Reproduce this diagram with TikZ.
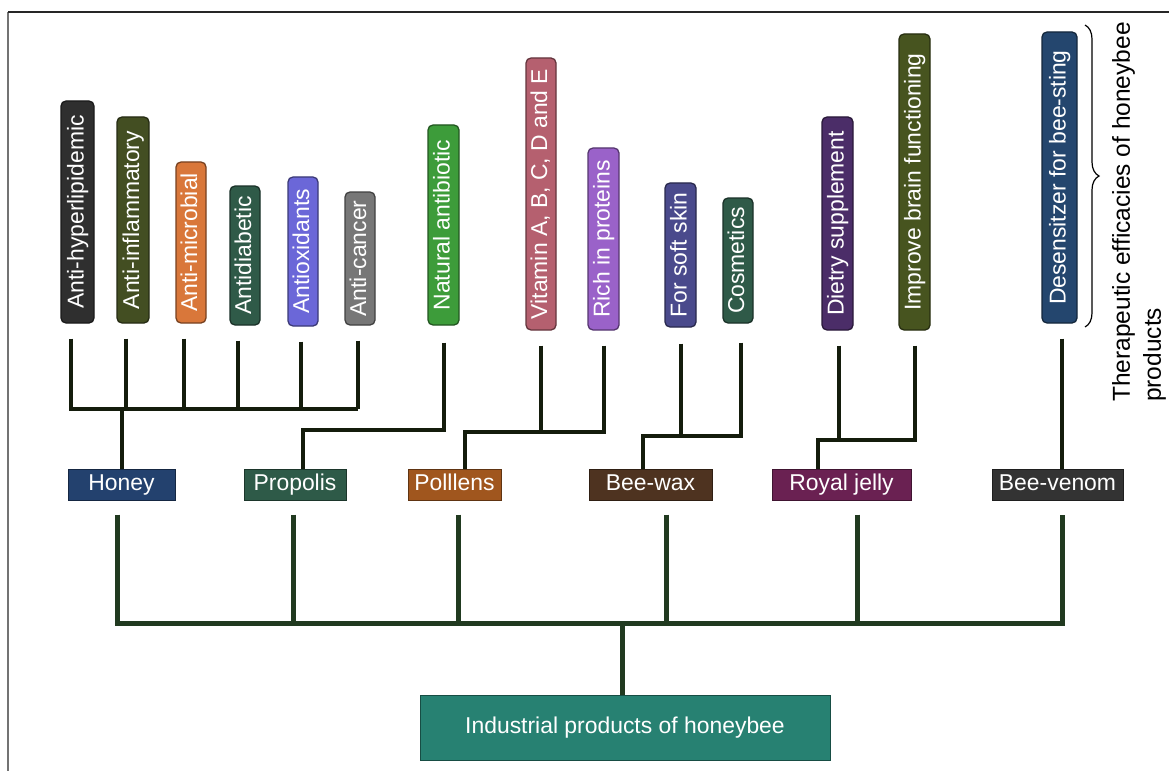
\documentclass[tikz,border=0pt]{standalone}
\usepackage{fontspec}
\setmainfont{Liberation Sans}
\usetikzlibrary{decorations.pathreplacing}
\definecolor{cHyper}{HTML}{2F2F2F}
\definecolor{cInfl}{HTML}{434E22}
\definecolor{cMicro}{HTML}{D9773A}
\definecolor{cDiab}{HTML}{2F5A48}
\definecolor{cOxi}{HTML}{6B67D8}
\definecolor{cCanc}{HTML}{777777}
\definecolor{cNat}{HTML}{3D9C3A}
\definecolor{cVit}{HTML}{B5606F}
\definecolor{cRich}{HTML}{9A62C9}
\definecolor{cSoft}{HTML}{4A4A8C}
\definecolor{cCosm}{HTML}{2F5A48}
\definecolor{cDiet}{HTML}{4B2D68}
\definecolor{cBrain}{HTML}{47541F}
\definecolor{cDes}{HTML}{24466E}
\definecolor{pHoney}{HTML}{23416E}
\definecolor{pProp}{HTML}{2E5A48}
\definecolor{pPoll}{HTML}{A0561E}
\definecolor{pWax}{HTML}{4E3320}
\definecolor{pRoyal}{HTML}{6A2152}
\definecolor{pVenom}{HTML}{333333}
\definecolor{pInd}{HTML}{278172}
\definecolor{topc}{HTML}{141C0C}
\definecolor{botc}{HTML}{213A20}
\begin{document}
\begin{tikzpicture}[x=1bp,y=-1bp,
  lblfont/.style={font=\fontsize{22.9bp}{27bp}\selectfont},
  vlabel/.style={rotate=90, rounded corners=5bp, fill=#1, draw=#1!55!black,
    line width=1.3bp, text=white, lblfont, inner sep=0pt,
    text height=16.5bp, text depth=4.5bp},
  prod/.style={fill=#1, draw=#1!60!black, line width=1bp, text=white,
    lblfont, inner sep=0pt, minimum height=31bp,
    text height=16.5bp, text depth=4.5bp},
  topline/.style={line width=4bp, draw=topc, line join=miter},
  botline/.style={line width=5bp, draw=botc, line join=miter},
  bracestyle/.style={decorate, decoration={brace, amplitude=14bp}, line width=1.2bp, draw=black},
]
\useasboundingbox (0,0) rectangle (1169,771);
\fill[white] (0,0) rectangle (1169,771);
% frame
\draw[black!55, line width=1.3bp] (8,771) -- (8,12);
\draw[black!85, line width=1.3bp] (8,12) -- (1169,12);

% vertical labels
\node[vlabel=cHyper, minimum width=222bp, minimum height=33bp] (a1) at (77.5,212) {Anti-hyperlipidemic};
\node[vlabel=cInfl, minimum width=206bp, minimum height=32bp] (a2) at (133,220) {Anti-inflammatory};
\node[vlabel=cMicro, minimum width=161bp, minimum height=30bp] (a3) at (191,242.5) {Anti-microbial};
\node[vlabel=cDiab, minimum width=139bp, minimum height=30bp] (a4) at (245,255.5) {Antidiabetic};
\node[vlabel=cOxi, minimum width=149bp, minimum height=30bp] (a5) at (303,251.5) {Antioxidants};
\node[vlabel=cCanc, minimum width=133bp, minimum height=30bp] (a6) at (360,258.5) {Anti-cancer};
\node[vlabel=cNat, minimum width=200bp, minimum height=31bp] (nat) at (443.5,225) {Natural antibiotic};
\node[vlabel=cVit, minimum width=272bp, minimum height=30bp] (vit) at (541,194) {Vitamin A, B, C, D and E};
\node[vlabel=cRich, minimum width=182bp, minimum height=31bp] (rich) at (603.5,239) {Rich in proteins};
\node[vlabel=cSoft, minimum width=144bp, minimum height=31bp] (soft) at (680.5,255) {For soft skin};
\node[vlabel=cCosm, minimum width=125bp, minimum height=30bp] (cosm) at (738,260.5) {Cosmetics};
\node[vlabel=cDiet, minimum width=213bp, minimum height=31bp] (diet) at (837.5,223.5) {Dietry supplement};
\node[vlabel=cBrain, minimum width=296bp, minimum height=31bp] (brain) at (914.5,182) {Improve brain functioning};
\node[vlabel=cDes, minimum width=291bp, minimum height=35bp] (des) at (1059.5,177.5) {Desensitzer for bee-sting};

% brace and its text
\coordinate (bt) at (1085,25);
\coordinate (bb) at (1085,327);
\draw[bracestyle] (bt) -- (bb);
\node[rotate=90, anchor=north west, align=left, inner sep=0pt,
  font=\fontsize{24.5bp}{31bp}\selectfont] (ther) at (1112,402)
  {Therapeutic efficacies of honeybee\\products};

% products
\node[prod=pHoney, minimum width=107bp] (honey) at (121.5,484.5) {Honey};
\node[prod=pProp, minimum width=102bp] (prop) at (295,484.5) {Propolis};
\node[prod=pPoll, minimum width=93bp] (poll) at (454.5,484.5) {Polllens};
\node[prod=pWax, minimum width=123bp] (wax) at (650.5,484.5) {Bee-wax};
\node[prod=pRoyal, minimum width=139bp] (royal) at (841.5,484.5) {Royal jelly};
\node[prod=pVenom, minimum width=131bp] (venom) at (1057.5,484.5) {Bee-venom};
\node[prod=pInd, minimum width=410bp, minimum height=65bp] (ind) at (625,727.5) {Industrial products of honeybee};

% top connectors
\coordinate (hj) at (122,409);
\draw[topline] ([xshift=-6.5bp,yshift=-15bp]a1.west) |- ([xshift=-2bp]a6.west |- hj);
\foreach \n/\dx in {a2/-7.5,a3/-7.5,a4/-7,a5/-2,a6/-2}{
  \draw[topline] ([xshift=\dx bp,yshift=-15bp]\n.west) -- ([xshift=\dx bp]\n.west |- hj);
}
\draw[topline] (hj) -- (hj |- honey.north);

\coordinate (pj) at (303,430);
\draw[topline] ([yshift=-17bp]nat.west) |- (pj) -- (pj |- prop.north);

\coordinate (lj) at (465,432);
\draw[topline] ([yshift=-15bp]rich.west) |- (lj) -- (lj |- poll.north);
\draw[topline] ([yshift=-15bp]vit.west) -- (vit.west |- lj);

\coordinate (wj) at (643,436);
\draw[topline] ([xshift=3bp,yshift=-19bp]cosm.west) |- (wj) -- (wj |- wax.north);
\draw[topline] ([yshift=-16bp]soft.west) -- (soft.west |- wj);

\coordinate (rj) at (818,440);
\draw[topline] ([yshift=-15bp]brain.west) |- (rj) -- (rj |- royal.north);
\draw[topline] ([xshift=1.5bp,yshift=-15bp]diet.west) -- ([xshift=1.5bp]diet.west |- rj);

\draw[topline] ([xshift=2.5bp,yshift=-15bp]des.west) -- ([xshift=2.5bp]des.west |- venom.north);

% bottom connectors
\draw[botline] ([xshift=-4bp,yshift=-14bp]honey.south) -- ++(0,109) -| ([xshift=4.5bp,yshift=-14bp]venom.south);
\draw[botline] ([xshift=-2bp,yshift=-14bp]prop.south) -- ++(0,109);
\draw[botline] ([xshift=3.5bp,yshift=-14bp]poll.south) -- ++(0,109);
\draw[botline] ([xshift=15.5bp,yshift=-14bp]wax.south) -- ++(0,109);
\draw[botline] ([xshift=15.5bp,yshift=-14bp]royal.south) -- ++(0,109);
\draw[botline] ([xshift=-3bp]ind.north) -- ++(0,-72);
\end{tikzpicture}
\end{document}
